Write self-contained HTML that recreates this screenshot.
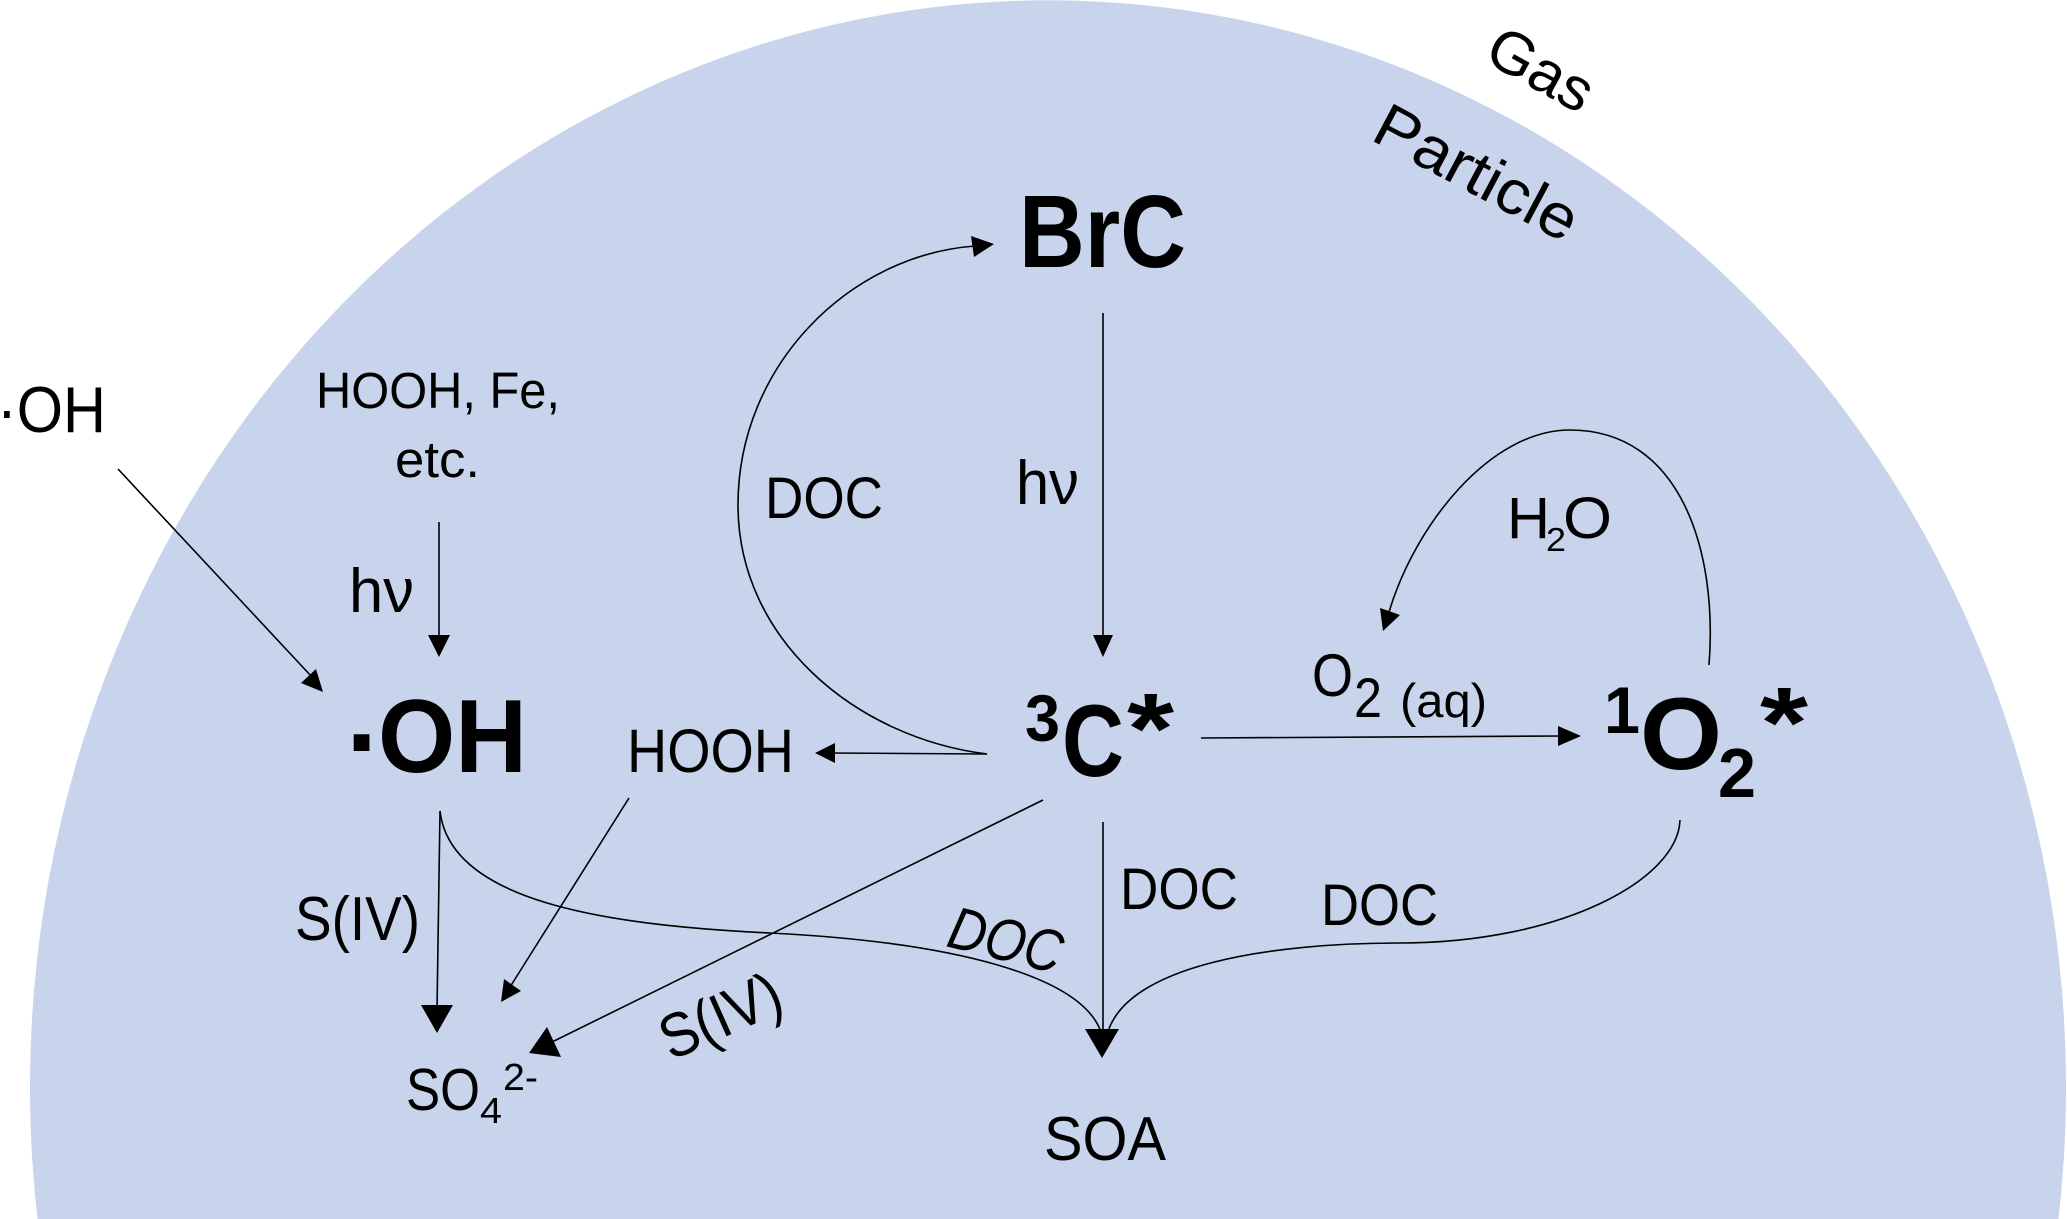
<!DOCTYPE html>
<html><head><meta charset="utf-8"><style>
html,body{margin:0;padding:0;background:#fff;width:2067px;height:1219px;overflow:hidden}
svg{display:block}
text{font-family:"Liberation Sans",sans-serif;fill:#000}
.b{font-weight:bold}
path.l{fill:none;stroke:#000;stroke-width:1.6}
</style></head><body>
<svg width="2067" height="1219" viewBox="0 0 2067 1219" xmlns="http://www.w3.org/2000/svg">
<path d="M37.5,1219 A1018,1087 0 1 1 2058.5,1219 Z" fill="#c7d4ec"/>

<!-- lines -->
<path class="l" d="M118,469 L312,677"/>
<path class="l" d="M439,522 V640"/>
<path class="l" d="M1103,313 V640"/>
<path class="l" d="M987,754 C857,738 738,640 738,505 C738,365 850,255 975,246"/>
<path class="l" d="M987,754 L830,753"/>
<path class="l" d="M1709,665 C1718,550 1680,430 1570,430 C1490,430 1415,525 1389,612"/>
<path class="l" d="M1201,738 L1562,736"/>
<path class="l" d="M440,811 L437,1010"/>
<path class="l" d="M629,798 L510,987"/>
<path class="l" d="M1043,800 L550,1043"/>
<path class="l" d="M1103,822 V1035"/>
<path class="l" d="M440,811 C450,900 600,925 770,933 C950,942 1085,975 1102,1035"/>
<path class="l" d="M1680,820 C1678,880 1560,943 1400,943 C1270,943 1125,965 1107,1035"/>

<!-- arrowheads -->
<g fill="#000">
<polygon points="323,692 301,683 316,669"/>
<polygon points="439,657 428,635 450,635"/>
<polygon points="1103,657 1093,635 1113,635"/>
<polygon points="994,244 971,236 974,257"/>
<polygon points="815,753 835,743 835,763"/>
<polygon points="1383,631 1380,608 1400,615"/>
<polygon points="1581,736 1558,726 1558,746"/>
<polygon points="437,1033 421,1005 453,1005"/>
<polygon points="501,1002 504,979 521,991"/>
<polygon points="529,1053 547,1027 561,1057"/>
<polygon points="1102,1058 1085,1029 1119,1029"/>
</g>

<!-- labels -->
<text x="1019" y="267" font-size="103" class="b" textLength="167" lengthAdjust="spacingAndGlyphs">BrC</text>
<text x="-3" y="432" font-size="65" textLength="109" lengthAdjust="spacingAndGlyphs">·OH</text>
<text x="316" y="408" font-size="51" textLength="244" lengthAdjust="spacingAndGlyphs">HOOH, Fe,</text>
<text x="395" y="477" font-size="51" textLength="85" lengthAdjust="spacingAndGlyphs">etc.</text>
<text x="349" y="612" font-size="62" textLength="65" lengthAdjust="spacingAndGlyphs">hν</text>
<text x="1016" y="504" font-size="62" textLength="63" lengthAdjust="spacingAndGlyphs">hν</text>
<text x="765" y="518" font-size="58" textLength="118" lengthAdjust="spacingAndGlyphs">DOC</text>
<text x="346" y="780" font-size="112" class="b">·</text>
<text x="378" y="772" font-size="104" class="b" textLength="149" lengthAdjust="spacingAndGlyphs">OH</text>
<text x="627" y="772" font-size="61" textLength="167" lengthAdjust="spacingAndGlyphs">HOOH</text>

<text x="1507" y="538" font-size="58" textLength="43" lengthAdjust="spacingAndGlyphs">H</text>
<text x="1546" y="551" font-size="33" textLength="20" lengthAdjust="spacingAndGlyphs">2</text>
<text x="1563" y="538" font-size="58" textLength="49" lengthAdjust="spacingAndGlyphs">O</text>

<text x="1312" y="696" font-size="60" textLength="41" lengthAdjust="spacingAndGlyphs">O</text>
<text x="1354" y="717" font-size="56" textLength="28" lengthAdjust="spacingAndGlyphs">2</text>
<text x="1400" y="717" font-size="47" textLength="87" lengthAdjust="spacingAndGlyphs">(aq)</text>

<text x="1025" y="741" font-size="66" class="b" textLength="35" lengthAdjust="spacingAndGlyphs">3</text>
<text x="1062" y="776" font-size="102" class="b" textLength="62" lengthAdjust="spacingAndGlyphs">C</text>
<text x="1127" y="763" font-size="100" class="b" textLength="47" lengthAdjust="spacingAndGlyphs">*</text>

<text x="1604" y="733" font-size="66" class="b" textLength="36" lengthAdjust="spacingAndGlyphs">1</text>
<text x="1640" y="769" font-size="102" class="b" textLength="82" lengthAdjust="spacingAndGlyphs">O</text>
<text x="1718" y="797" font-size="70" class="b" textLength="38" lengthAdjust="spacingAndGlyphs">2</text>
<text x="1760" y="757" font-size="100" class="b" textLength="48" lengthAdjust="spacingAndGlyphs">*</text>

<text x="295" y="940" font-size="62" textLength="125" lengthAdjust="spacingAndGlyphs">S(IV)</text>
<text x="1120" y="909" font-size="58" textLength="118" lengthAdjust="spacingAndGlyphs">DOC</text>
<text x="1321" y="925" font-size="58" textLength="117" lengthAdjust="spacingAndGlyphs">DOC</text>
<text transform="translate(945,946) rotate(14)" font-size="60" font-style="italic" textLength="115" lengthAdjust="spacingAndGlyphs">DOC</text>
<text transform="translate(671,1061) rotate(-24)" font-size="62" textLength="127" lengthAdjust="spacingAndGlyphs">S(IV)</text>

<text x="406" y="1110" font-size="59" textLength="74" lengthAdjust="spacingAndGlyphs">SO</text>
<text x="480" y="1123" font-size="36" textLength="22" lengthAdjust="spacingAndGlyphs">4</text>
<text x="503" y="1090" font-size="38" textLength="35" lengthAdjust="spacingAndGlyphs">2-</text>
<text x="1044" y="1160" font-size="62" textLength="122" lengthAdjust="spacingAndGlyphs">SOA</text>

<text transform="translate(1482,60) rotate(29)" font-size="60" textLength="112" lengthAdjust="spacingAndGlyphs">Gas</text>
<text transform="translate(1369,139) rotate(28)" font-size="62" textLength="222" lengthAdjust="spacingAndGlyphs">Particle</text>
</svg>
</body></html>
